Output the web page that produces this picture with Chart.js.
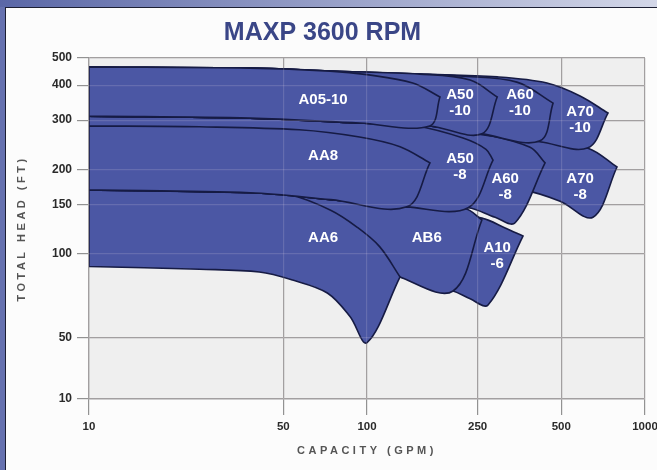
<!DOCTYPE html>
<html>
<head>
<meta charset="utf-8">
<script src="https://cdn.jsdelivr.net/npm/chart.js@4.4.1/dist/chart.umd.min.js"></script>
<style>
  html, body { margin: 0; padding: 0; }
  body { width: 657px; height: 470px; position: relative; overflow: hidden; background: #6672b0; }
  #topband { position: absolute; left: 0; top: 0; width: 657px; height: 7px; background: linear-gradient(to right, #5a67a7, #d3d7e8); }
  #panel { position: absolute; left: 5px; top: 7px; right: 0; bottom: 0; background: #fcfcfc; border-left: 1px solid #1c1f33; border-top: 1px solid #1c1f33; }
  #chart { position: absolute; left: 0; top: 0; }
</style>
</head>
<body>
<div id="topband"></div>
<div id="panel"></div>
<canvas id="chart" width="657" height="470"></canvas>
<script>
// tick values for the two axes
const xTicks = [10, 50, 100, 250, 500, 1000];
const yTicks = [10, 50, 100, 150, 200, 300, 400, 500];

// pump ranges as [gpm, ft]: top = max impeller curve, bottom = min impeller curve (right to left)
const a0510Top = [[10,464],[38,460],[73.6,449],[100,436],[146,407],[183,363]];
const a0510Bottom = [[168,286],[94,293],[38,305],[10,310]];
const a5010Top = [[10,464],[38,460],[73.6,449],[155,438],[235,417],[294,363]];
const a5010Bottom = [[259,268],[168,286],[94,293],[38,305],[10,310]];
const a6010Top = [[10,464],[38,460],[73.6,449],[155,438],[216,431],[346,410],[467,345]];
const a6010Bottom = [[419,253],[259,268],[168,286],[94,293],[38,305],[10,310]];
const a7010Top = [[10,464],[38,460],[73.6,449],[155,438],[294,428],[444,407],[584,366],[736,318]];
const a7010Bottom = [[624,239],[419,251],[259,266],[168,286],[94,293],[38,305],[10,310]];

const aa8Top = [[10,286],[25,284],[57,277],[94,261],[131.5,241],[168.5,211]];
const aa8Bottom = [[139,147],[74,156],[38,165],[10,169]];
const a508Top = [[10,310],[38,305],[94,293],[150,286],[221.5,259],[268,236],[284,216]];
const a508Bottom = [[231,146],[139,147],[74,156],[38,165],[10,169]];
const a608Top = [[10,310],[38,305],[94,293],[168,286],[259,268],[386,240],[437,211]];
const a608Bottom = [[341,129],[289,135],[231,146],[139,147],[74,156],[38,165],[10,169]];
const a708Top = [[10,310],[38,305],[94,293],[168,286],[259,268],[419,252],[624,238],[793,204]];
const a708Bottom = [[650,135],[495,154],[364,169],[235,176],[10,176]];

const aa6Top = [[10,169],[38,165],[53,162],[74,143],[92,124.5],[111,106],[131.5,82.6]];
const aa6Bottom = [[100,47],[87,59.5],[72,72.4],[54,80.5],[41,86],[25,88],[10,90]];
const ab6Top = [[10,169],[38,165],[74,156],[139,147],[225,145],[259,132]];
const ab6Bottom = [[204,73.6],[131.5,82.6],[111,93],[74,112],[10,112]];
const a106Top = [[131.5,149],[259,134],[314,123.6],[364,115.6]];
const a106Bottom = [[272.5,65.6],[235,69],[204,73.6],[131.5,82.6]];

// front to back
const regions = [
  { name: 'A05-10', top: a0510Top, bottom: a0510Bottom },
  { name: 'A50-10', top: a5010Top, bottom: a5010Bottom },
  { name: 'A60-10', top: a6010Top, bottom: a6010Bottom },
  { name: 'A70-10', top: a7010Top, bottom: a7010Bottom },
  { name: 'AA8', top: aa8Top, bottom: aa8Bottom },
  { name: 'A50-8', top: a508Top, bottom: a508Bottom },
  { name: 'A60-8', top: a608Top, bottom: a608Bottom },
  { name: 'A70-8', top: a708Top, bottom: a708Bottom },
  { name: 'AA6', top: aa6Top, bottom: aa6Bottom },
  { name: 'AB6', top: ab6Top, bottom: ab6Bottom },
  { name: 'A10-6', top: a106Top, bottom: a106Bottom }
];

// where the model names sit [gpm, ft]
const labelSpots = [
  { text: ['A05-10'], gpm: 69.5, ft: 354 },
  { text: ['AA8'], gpm: 69.5, ft: 223 },
  { text: ['AA6'], gpm: 69.5, ft: 114 },
  { text: ['A50', '-10'], gpm: 216, ft: 345 },
  { text: ['A60', '-10'], gpm: 355, ft: 345 },
  { text: ['A70', '-10'], gpm: 584, ft: 300 },
  { text: ['A50', '-8'], gpm: 216, ft: 204 },
  { text: ['A60', '-8'], gpm: 314, ft: 173 },
  { text: ['A70', '-8'], gpm: 584, ft: 173 },
  { text: ['AB6'], gpm: 164, ft: 114 },
  { text: ['A10', '-6'], gpm: 294, ft: 98 }
];

const FONT = '"Liberation Sans", Arial, sans-serif';
Chart.defaults.font.family = FONT;

// closed outline, corners doubled so the spline keeps them sharp
function outline(top, bottom) {
  const pts = [];
  const push = p => pts.push({ x: p[0], y: p[1] });
  top.forEach(push);
  push(top[top.length - 1]);
  push(bottom[0]);
  bottom.forEach((p, i) => { if (i > 0) push(p); });
  push(bottom[bottom.length - 1]);
  push(top[0]);
  return pts;
}

function spaced(ctx, draw) {
  ctx.save();
  ctx.letterSpacing = '3.5px';
  draw();
  ctx.restore();
}

// head axis: log from 50 ft up, compressed linear stretch down to 10 ft
class HeadScale extends Chart.LinearScale {
  static id = 'head';
  static defaults = {};
  getPixelForValue(v) {
    const f0 = 61 / 341;
    const f = v >= 50
      ? f0 + (1 - f0) * Math.log10(v / 50)
      : f0 * (v - 10) / 40;
    return this.bottom - f * (this.bottom - this.top);
  }
  getValueForPixel(p) {
    const f0 = 61 / 341;
    const f = (this.bottom - p) / (this.bottom - this.top);
    return f >= f0 ? 50 * Math.pow(10, (f - f0) / (1 - f0)) : 10 + 40 * f / f0;
  }
  drawTitle() { spaced(this.ctx, () => super.drawTitle()); }
}

class CapacityScale extends Chart.LogarithmicScale {
  static id = 'capacity';
  static defaults = {};
  drawTitle() { spaced(this.ctx, () => super.drawTitle()); }
}

Chart.register(HeadScale, CapacityScale);

const plotBackground = {
  id: 'plotBackground',
  beforeDraw(chart) {
    const { ctx, chartArea: a } = chart;
    ctx.save();
    ctx.fillStyle = '#efefef';
    ctx.fillRect(a.left, a.top, a.right - a.left, a.bottom - a.top);
    ctx.restore();
  }
};

const regionNames = {
  id: 'regionNames',
  afterDraw(chart) {
    const { ctx, scales: { x, y } } = chart;
    ctx.save();
    ctx.fillStyle = '#ffffff';
    ctx.font = 'bold 15px ' + FONT;
    ctx.textAlign = 'center';
    ctx.textBaseline = 'middle';
    labelSpots.forEach(l => {
      const px = x.getPixelForValue(l.gpm);
      const py = y.getPixelForValue(l.ft);
      l.text.forEach((t, i) => ctx.fillText(t, px, py + (i - (l.text.length - 1) / 2) * 16));
    });
    ctx.restore();
  }
};

const gridColor = '#929292';
const overGrid = 'rgba(255,235,240,0.15)';

new Chart(document.getElementById('chart'), {
  type: 'line',
  data: {
    datasets: regions.map(r => ({
      label: r.name,
      data: outline(r.top, r.bottom),
      borderColor: '#161b44',
      borderWidth: 1.6,
      backgroundColor: '#4b57a4',
      fill: 'shape',
      tension: 0.35,
      pointRadius: 0,
      pointHoverRadius: 0,
      clip: 0
    }))
  },
  options: {
    responsive: false,
    animation: false,
    layout: { padding: { right: 12 } },
    plugins: {
      legend: { display: false },
      tooltip: { enabled: false },
      title: {
        display: true,
        text: 'MAXP 3600 RPM',
        color: '#3a4687',
        font: { size: 25, weight: 'bold' },
        padding: { top: 18, bottom: 10 }
      }
    },
    scales: {
      x: {
        type: 'capacity',
        min: 10,
        max: 1000,
        afterBuildTicks: s => { s.ticks = xTicks.map(v => ({ value: v })); },
        afterFit: s => { s.height = 71; s.paddingLeft = 0; s.paddingRight = 0; },
        grid: { color: gridColor, lineWidth: 1.2, tickLength: 16 },
        border: { color: gridColor, width: 1.2 },
        ticks: {
          autoSkip: false, maxRotation: 0, padding: 5, color: '#2a2a2a',
          font: { size: 11.5, weight: 'bold' },
          callback: v => String(v)
        },
        title: {
          display: true, text: 'CAPACITY (GPM)', color: '#555555',
          font: { size: 11, weight: 'bold' },
          padding: { top: 0, bottom: 12 }
        }
      },
      y: {
        type: 'head',
        min: 10,
        max: 500,
        afterBuildTicks: s => { s.ticks = yTicks.map(v => ({ value: v })); },
        afterFit: s => { s.width = 89; },
        grid: { color: gridColor, lineWidth: 1.2, tickLength: 12 },
        border: { color: gridColor, width: 1.2 },
        ticks: {
          autoSkip: false, padding: 5, color: '#2a2a2a',
          font: { size: 12, weight: 'bold' },
          callback: v => String(v)
        },
        title: {
          display: true, text: 'TOTAL HEAD (FT)', color: '#555555',
          font: { size: 11, weight: 'bold' },
          padding: { top: 15, bottom: 0 }
        }
      },
      // faint grid showing through the coverage areas
      xOver: {
        type: 'capacity',
        position: 'bottom',
        min: 10,
        max: 1000,
        afterBuildTicks: s => { s.ticks = xTicks.map(v => ({ value: v })); },
        afterFit: s => { s.height = 0; s.paddingLeft = 0; s.paddingRight = 0; },
        grid: { color: overGrid, lineWidth: 1.2, drawTicks: false, z: 1 },
        border: { display: false },
        ticks: { display: false }
      },
      yOver: {
        type: 'head',
        position: 'left',
        min: 10,
        max: 500,
        afterBuildTicks: s => { s.ticks = yTicks.map(v => ({ value: v })); },
        afterFit: s => { s.width = 0; s.paddingTop = 0; s.paddingBottom = 0; },
        grid: { color: overGrid, lineWidth: 1.2, drawTicks: false, z: 1 },
        border: { display: false },
        ticks: { display: false }
      }
    }
  },
  plugins: [plotBackground, regionNames]
});
</script>
</body>
</html>
